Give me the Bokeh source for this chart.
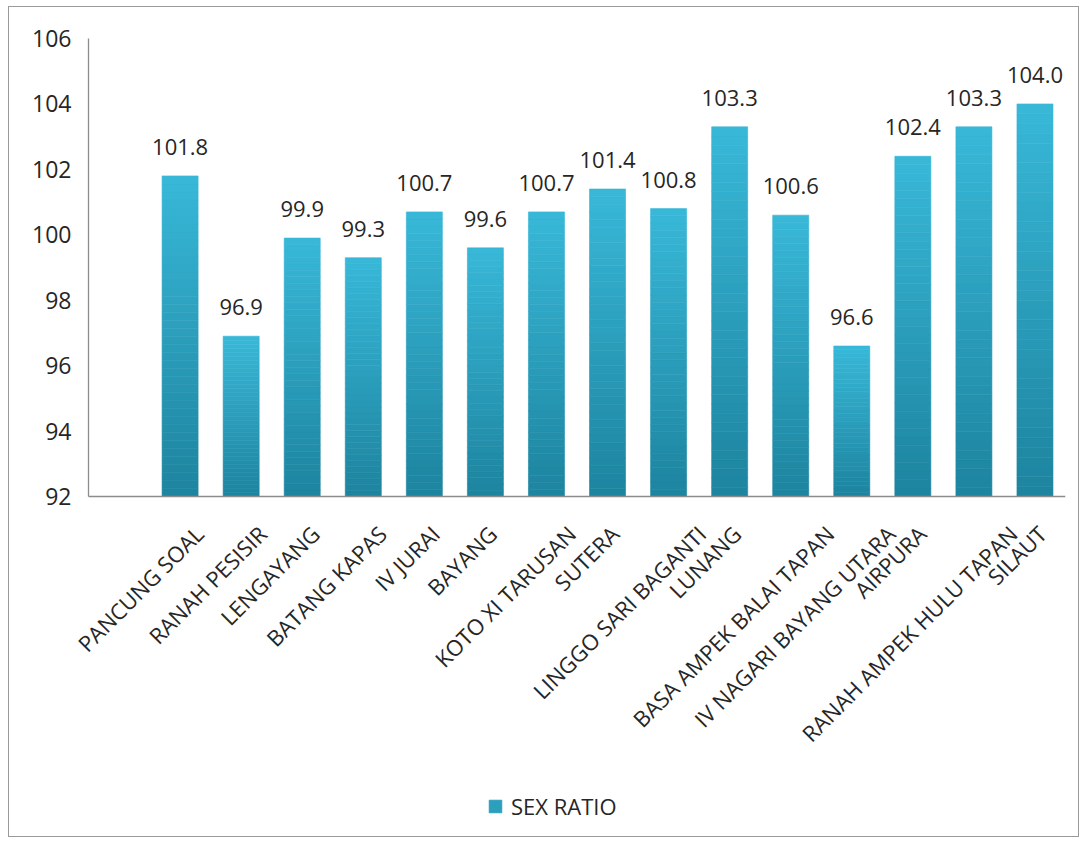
import numpy as np
from bokeh.plotting import figure
from bokeh.models import Range1d, Legend, LegendItem, ColumnDataSource
from bokeh.core.properties import value
from bokeh.embed import file_html
from bokeh.resources import INLINE

categories = ["PANCUNG SOAL", "RANAH PESISIR", "LENGAYANG", "BATANG KAPAS", "IV JURAI",
              "BAYANG", "KOTO XI TARUSAN", "SUTERA", "LINGGO SARI BAGANTI", "LUNANG",
              "BASA AMPEK BALAI TAPAN", "IV NAGARI BAYANG UTARA", "AIRPURA",
              "RANAH AMPEK HULU TAPAN", "SILAUT"]
sex_ratio = [101.8, 96.9, 99.9, 99.3, 100.7, 99.6, 100.7, 101.4, 100.8, 103.3,
             100.6, 96.6, 102.4, 103.3, 104.0]
y_ticks = [92, 94, 96, 98, 100, 102, 104, 106]
series_name = "SEX RATIO"

FONT = "Open Sans"
TXT = "#262626"
AXIS = "#8c8c8c"
base = y_ticks[0]
top_val = y_ticks[-1]
n = len(categories)
xs = np.arange(n) + 1.5

# layout (pixels)
W, H = 1071, 831
axis_left = 79          # x of the value axis, from the figure's left edge
axis_top = 31           # y of the top of the value axis
axis_px = 458.0         # height of the 92..106 value axis
plot_w = 977            # width of the category area
pad = 1
ppu = axis_px / (top_val - base)
y_end = top_val + (axis_top - pad) / ppu
y_start = base - (H - pad - (axis_top + axis_px)) / ppu
cat_px = plot_w / (n + 1)
x_start = -(axis_left - pad) / cat_px
right = W - axis_left - plot_w

p = figure(width=W, height=H, output_backend="svg", toolbar_location=None,
           x_range=Range1d(x_start, n + 1), y_range=Range1d(y_start, y_end),
           min_border_left=pad, min_border_right=right, min_border_top=pad,
           min_border_bottom=pad,
           styles={"border": "1px solid #9a9a9a", "margin": "6px 0 0 8px"})
p.outline_line_color = None
p.xgrid.visible = False
p.ygrid.visible = False
p.xaxis.visible = False
p.yaxis.visible = False

# gradient bars (each bar split into thin vertical slices)
N = 40
top_c = np.array([0x38, 0xb8, 0xd8])
bot_c = np.array([0x1d, 0x84, 0x9f])
bx, bb, bt, bc = [], [], [], []
for x, v in zip(xs, sex_ratio):
    for k in range(N):
        f0, f1 = k / N, (k + 1) / N
        bx.append(x)
        bb.append(base + (v - base) * f0)
        bt.append(base + (v - base) * f1)
        c = bot_c + (top_c - bot_c) * ((f0 + f1) / 2)
        bc.append("#%02x%02x%02x" % tuple(int(round(t)) for t in c))
src = ColumnDataSource(dict(x=bx, bottom=bb, top=bt, color=bc))
r = p.vbar(x="x", bottom="bottom", top="top", width=0.59, fill_color="color",
           line_color="color", line_width=0.6, source=src)

# axis lines
p.segment(x0=[0, 0], y0=[base, base], x1=[0, n + 1], y1=[top_val, base],
          line_color=AXIS, line_width=1.3)

# value-axis tick labels
tick_src = ColumnDataSource(dict(x=[0] * len(y_ticks), y=y_ticks, t=[str(t) for t in y_ticks]))
p.text(x="x", y="y", text="t", source=tick_src, text_align="right", text_baseline="middle",
       x_offset=-17, text_font=value(FONT), text_font_size="23px", text_color=TXT)

# value labels
lab = ColumnDataSource(dict(x=xs, y=sex_ratio, t=["%.1f" % v for v in sex_ratio]))
p.text(x="x", y="y", text="t", source=lab, text_align="center", text_baseline="alphabetic",
       y_offset=-29, text_font=value(FONT), text_font_size="22px", text_color=TXT)

# category labels, rotated 45 degrees; longer labels nudged right like the original
cat_src = ColumnDataSource(dict(x=xs, y=[base] * n, t=categories,
                                dx=[2 * len(c) - 5 for c in categories]))
p.text(x="x", y="y", text="t", source=cat_src, angle=np.pi / 4, text_align="right",
       text_baseline="middle", x_offset="dx", y_offset=33,
       text_font=value(FONT), text_font_size="22px", text_color=TXT)

legend = Legend(items=[LegendItem(label=series_name, renderers=[r], index=N // 2)],
                location=(axis_left - pad + 399, 16), orientation="horizontal",
                label_text_font=FONT, label_text_font_size="22px", label_text_color=TXT,
                glyph_width=16, glyph_height=16, border_line_color=None,
                background_fill_alpha=0, padding=0, margin=0, label_standoff=8)
p.add_layout(legend, "center")

open("out.html", "w").write(file_html(p, INLINE))
